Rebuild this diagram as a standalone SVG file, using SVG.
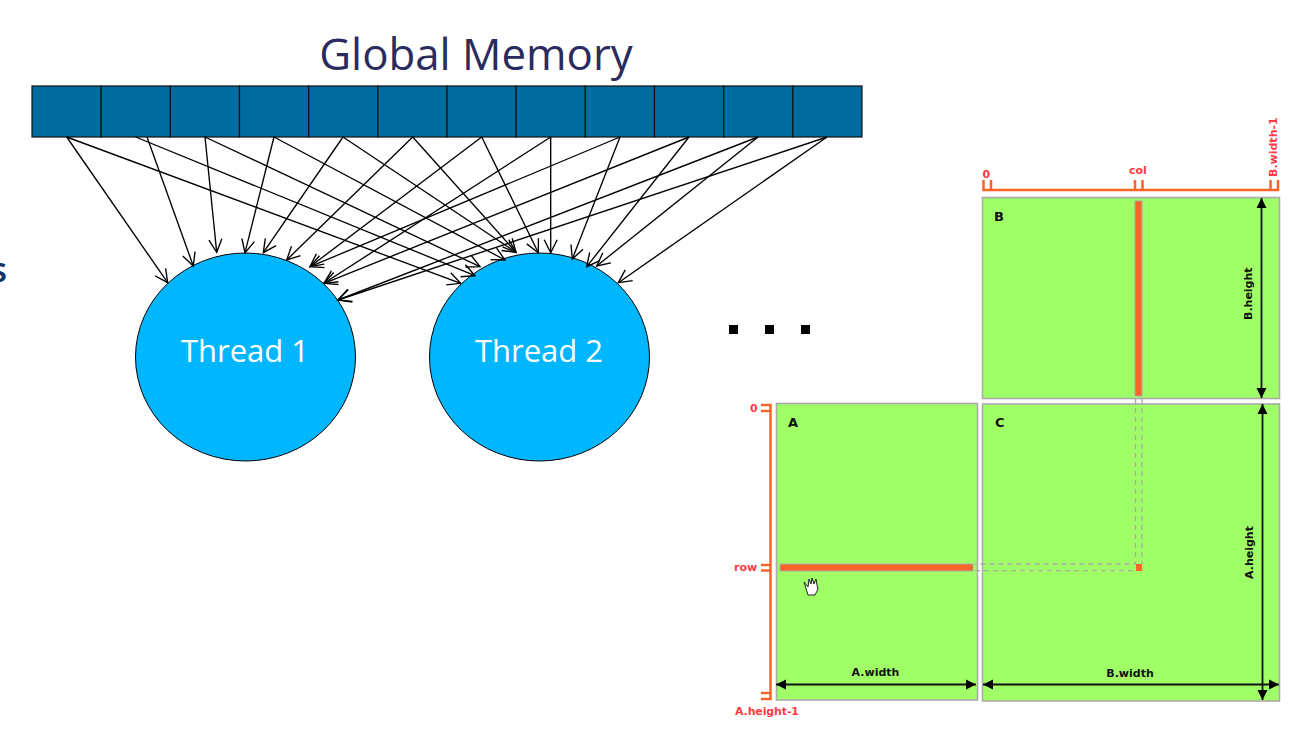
<svg xmlns="http://www.w3.org/2000/svg" width="1296" height="738" viewBox="0 0 1296 738">
<style>
.cell{fill:#006b9e;stroke:#111;stroke-width:1.2}
.thread{fill:#00b6ff;stroke:#000;stroke-width:1}
.tt{font-family:"Open Sans","Noto Sans",sans-serif;font-size:31px;fill:#fff;text-anchor:middle}
.c line{stroke:#000;stroke-width:1.35;marker-end:url(#open)}
.panel{fill:#a0ff66;stroke:#aaa;stroke-width:1.6}
.or{stroke:#f96428;stroke-width:2.5;fill:none}
.lab{font-family:"DejaVu Sans",sans-serif;font-weight:bold;font-size:11px;fill:#111}
.pl{font-family:"DejaVu Sans",sans-serif;font-weight:bold;font-size:13px;fill:#111}
.red{font-family:"DejaVu Sans",sans-serif;font-weight:bold;font-size:11px;fill:#ff3a44}
.dim{stroke:#111;stroke-width:1.8;marker-end:url(#solid);marker-start:url(#solidr)}
.dash{stroke:#aaa;stroke-width:1.3;stroke-dasharray:5 4;fill:none}
.bar{fill:#f96428;stroke:#aaa;stroke-width:1}
.dot{fill:#000}
</style>
<defs>
<marker id="open" markerUnits="userSpaceOnUse" markerWidth="20" markerHeight="20" refX="14" refY="10" orient="auto"><path d="M1 3.5L14 10L1 16.500" fill="none" stroke="#000" stroke-width="1.35"/></marker>
<marker id="solid" markerUnits="userSpaceOnUse" markerWidth="12" markerHeight="12" refX="10" refY="6" orient="auto"><path d="M0 1L10 6L0 11z" fill="#000"/></marker>
<marker id="solidr" markerUnits="userSpaceOnUse" markerWidth="12" markerHeight="12" refX="2" refY="6" orient="auto"><path d="M12 1L2 6L12 11z" fill="#000"/></marker>
</defs>

<text x="476" y="70" text-anchor="middle" font-family="'Open Sans','Noto Sans',sans-serif" font-size="43.800" fill="#2b2b5e">Global Memory</text>
<text x="-10" y="282" font-family="'Open Sans','Noto Sans',sans-serif" font-size="35" font-weight="600" fill="#12306b">s</text>

<g id="memory">
<rect class="cell" x="32" y="86" width="69.170" height="51"/><rect class="cell" x="101.170" y="86" width="69.170" height="51"/><rect class="cell" x="170.330" y="86" width="69.170" height="51"/><rect class="cell" x="239.500" y="86" width="69.170" height="51"/><rect class="cell" x="308.670" y="86" width="69.170" height="51"/><rect class="cell" x="377.830" y="86" width="69.170" height="51"/><rect class="cell" x="447" y="86" width="69.170" height="51"/><rect class="cell" x="516.170" y="86" width="69.170" height="51"/><rect class="cell" x="585.330" y="86" width="69.170" height="51"/><rect class="cell" x="654.500" y="86" width="69.170" height="51"/><rect class="cell" x="723.670" y="86" width="69.170" height="51"/><rect class="cell" x="792.830" y="86" width="69.170" height="51"/>
</g>
<g id="thread1"><ellipse class="thread" cx="245.500" cy="357" rx="110" ry="104"/><text class="tt" x="245" y="362">Thread 1</text></g>
<g id="thread2"><ellipse class="thread" cx="539.500" cy="357" rx="110" ry="104"/><text class="tt" x="539" y="362">Thread 2</text></g>

<g id="connectors" class="c">
<line x1="66.700" y1="137" x2="167.700" y2="282.700"/>
<line x1="147" y1="137" x2="193.300" y2="266"/>
<line x1="205" y1="137" x2="216.700" y2="252.300"/>
<line x1="274" y1="137" x2="245" y2="252.700"/>
<line x1="343" y1="137" x2="263.300" y2="252.700"/>
<line x1="412.700" y1="137" x2="286.700" y2="260"/>
<line x1="481.700" y1="137" x2="310" y2="266.700"/>
<line x1="550.700" y1="137" x2="324" y2="283.300"/>
<line x1="620" y1="137" x2="310" y2="266.700"/>
<line x1="689" y1="137" x2="324" y2="283.300"/>
<line x1="758" y1="137" x2="338" y2="300"/>
<line x1="827" y1="137" x2="338" y2="300"/>
<line x1="66.700" y1="137" x2="460.700" y2="283.300"/>
<line x1="135.700" y1="137" x2="475" y2="275.700"/>
<line x1="205" y1="137" x2="480" y2="266.700"/>
<line x1="274" y1="137" x2="505" y2="260"/>
<line x1="343" y1="137" x2="516" y2="252.300"/>
<line x1="412.700" y1="137" x2="516" y2="252.300"/>
<line x1="481.700" y1="137" x2="538.300" y2="252.700"/>
<line x1="550.700" y1="137" x2="550.700" y2="252.700"/>
<line x1="620" y1="137" x2="572.300" y2="259"/>
<line x1="689" y1="137" x2="586.700" y2="266.700"/>
<line x1="758" y1="137" x2="596.700" y2="266"/>
<line x1="827" y1="137" x2="618.300" y2="282.700"/>
</g>

<g id="dots"><rect class="dot" x="729" y="325" width="9" height="9"/><rect class="dot" x="765" y="325" width="9" height="9"/><rect class="dot" x="801" y="325" width="9" height="9"/></g>

<g id="panelB"><rect class="panel" x="982.500" y="197.500" width="297" height="201"/><text class="pl" x="994" y="221">B</text></g>
<g id="panelA"><rect class="panel" x="776.500" y="403.500" width="201" height="296.500"/><text class="pl" x="788" y="427">A</text></g>
<g id="panelC"><rect class="panel" x="982.500" y="404" width="297" height="297"/><text class="pl" x="995" y="427">C</text></g>

<g id="selection">
<path class="dash" d="M1135.500 399V564H975M1142 399V564M975 570.700H1135.500"/>
<rect class="bar" x="1135" y="201" width="7" height="195"/>
<rect class="bar" x="780" y="564" width="193" height="7"/>
<rect fill="#f96428" x="1136" y="564" width="6" height="7"/>
</g>

<g id="rulers">
<path class="or" d="M983.500 180V190H1278V180M991 180V190M1135 180V190M1142.500 180V190M1270.500 180V190"/>
<path class="or" d="M761 405H770.500V699H761M761 411H770.500M761 565H770.500M761 570.500H770.500M761 693H770.500"/>
</g>
<g id="rulerLabels">
<text class="red" x="982.500" y="178">0</text>
<text class="red" x="1129" y="174">col</text>
<text class="red" transform="translate(1276.500 177) rotate(-90)">B.width-1</text>
<text class="red" x="750" y="412">0</text>
<text class="red" x="734" y="571">row</text>
<text class="red" x="735" y="714.500" textLength="64">A.height-1</text>
</g>

<g id="dimensions">
<line class="dim" x1="776" y1="684.500" x2="976" y2="684.500"/>
<line class="dim" x1="983" y1="684.500" x2="1279" y2="684.500"/>
<line class="dim" x1="1261.500" y1="198" x2="1261.500" y2="398"/>
<line class="dim" x1="1262.500" y1="404" x2="1262.500" y2="700"/>
<text class="lab" x="875.500" y="676" text-anchor="middle">A.width</text>
<text class="lab" x="1130" y="677" text-anchor="middle">B.width</text>
<text class="lab" transform="translate(1252 320) rotate(-90)">B.height</text>
<text class="lab" transform="translate(1253 579) rotate(-90)">A.height</text>
</g>
<g id="cursor"><path d="M804 582L808 587L809 579L811 584L812 578L814 584L816 579L817 585L818 589L815 595L808 595z" fill="#fff" stroke="#222" stroke-width="1"/></g>
</svg>
